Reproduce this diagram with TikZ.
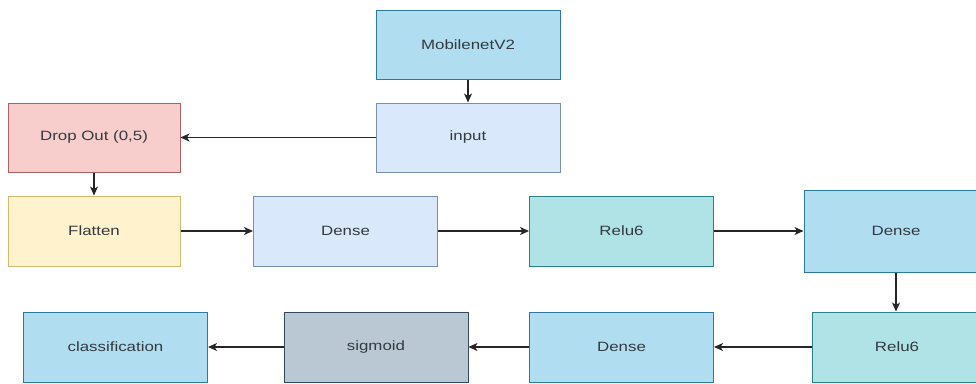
\documentclass[tikz,border=0pt]{standalone}
\usepackage{fontspec}
\newfontfamily\labfont[FakeStretch=1.25]{Liberation Sans}
\usetikzlibrary{arrows.meta}
\definecolor{blueF}{HTML}{B1DDF0}\definecolor{blueS}{HTML}{2D7A9A}
\definecolor{lblueF}{HTML}{DAE8FC}\definecolor{lblueS}{HTML}{7890B0}
\definecolor{redF}{HTML}{F8CECC}\definecolor{redS}{HTML}{B06060}
\definecolor{yelF}{HTML}{FFF2CC}\definecolor{yelS}{HTML}{D0B870}
\definecolor{tealF}{HTML}{B0E3E6}\definecolor{tealS}{HTML}{2A8088}
\definecolor{grayF}{HTML}{BAC8D3}\definecolor{grayS}{HTML}{2E4A60}
\definecolor{txt}{HTML}{333A40}
\begin{document}
\begin{tikzpicture}[x=1pt,y=-1pt,
  box/.style={draw, line width=1pt, minimum width=184pt, minimum height=69pt, inner sep=0pt,
    font=\labfont\fontsize{13.5}{15}\selectfont, text=txt},
  bluebox/.style={box, fill=blueF, draw=blueS},
  lbluebox/.style={box, fill=lblueF, draw=lblueS},
  redbox/.style={box, fill=redF, draw=redS},
  yelbox/.style={box, fill=yelF, draw=yelS},
  tealbox/.style={box, fill=tealF, draw=tealS},
  graybox/.style={box, fill=grayF, draw=grayS},
  conn/.style={draw=black!85, line width=1.3pt, -{Stealth[length=9pt,width=8pt,inset=2.5pt]}}]
\useasboundingbox (0,0) rectangle (976,383);
\clip (0,0) rectangle (976,383);
\fill[white] (0,0) rectangle (976,383);
\node[bluebox] (mob) at (468,44.5) {MobilenetV2};
\node[lbluebox] (inp) at (468,137.5) {input};
\node[redbox, minimum width=172pt] (drop) at (94,137.5) {Drop Out (0,5)};
\node[yelbox, minimum width=172pt, minimum height=70pt] (flat) at (94,231) {Flatten};
\node[lbluebox, minimum height=70pt] (d1) at (345.5,231) {Dense};
\node[tealbox, minimum height=70pt] (r1) at (621.5,231) {Relu6};
\node[bluebox, minimum width=184pt, minimum height=82pt] (d2) at (896,231) {Dense};
\node[tealbox, minimum width=170pt, minimum height=70pt] (r2) at (897,347) {Relu6};
\node[bluebox, minimum height=70pt] (d3) at (621.5,347) {Dense};
\node[graybox, minimum height=70pt] (sig) at (376,347) {sigmoid};
\node[bluebox, minimum height=70pt] (cls) at (115.5,347) {classification};
\draw[conn] (mob) -- (inp);
\draw[conn] (inp) -- (drop);
\draw[conn] (drop) -- (flat);
\draw[conn] (flat) -- (d1);
\draw[conn] (d1) -- (r1);
\draw[conn] (r1) -- (d2);
\draw[conn] (d2.south) -- (d2.south |- r2.north);
\draw[conn] (r2) -- (d3);
\draw[conn] (d3) -- (sig);
\draw[conn] (sig) -- (cls);
\end{tikzpicture}
\end{document}
